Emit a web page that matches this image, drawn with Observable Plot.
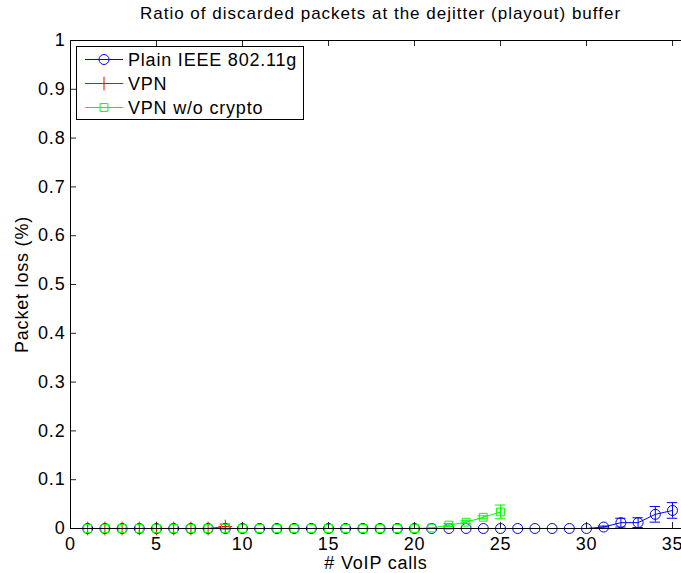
<!DOCTYPE html>
<html>
<head>
<meta charset="utf-8">
<script src="https://cdn.jsdelivr.net/npm/d3@7"></script>
<script src="https://cdn.jsdelivr.net/npm/@observablehq/plot@0.6"></script>
<style>
  html, body { margin: 0; padding: 0; background: #fff; }
  #wrap { position: relative; width: 681px; height: 573px; overflow: hidden; font-family: "Liberation Sans", Arial, Helvetica, sans-serif; }
  #title { position: absolute; left: 75px; width: 611px; top: 4px; text-align: center; font-size: 17px; letter-spacing: 1px; color: #000; white-space: nowrap; }
  #legend { position: absolute; left: 76px; top: 46px; }
</style>
</head>
<body>
<div id="wrap">
  <div id="chart"></div>
  <div id="title">Ratio of discarded packets at the dejitter (playout) buffer</div>
  <div id="legend"></div>
</div>
<script>
// ---- data ----
const callsPlain = [1,2,3,4,5,6,7,8,9,10,11,12,13,14,15,16,17,18,19,20,21,22,23,24,25,26,27,28,29,30,31,32,33,34,35];
const lossPlain  = [0,0,0,0,0,0,0,0,0,0,0,0,0,0,0,0,0,0,0,0,0,0,0,0,0,0,0,0,0,0,0.003,0.012,0.012,0.029,0.037];
const errPlain   = [0,0,0,0,0,0,0,0,0,0,0,0,0,0,0,0,0,0,0,0,0,0,0,0,0,0,0,0,0,0,0.002,0.009,0.010,0.016,0.016];

const callsVPN = [1,2,3,4,5,6,7,8,9];
const lossVPN  = [0,0,0,0,0,0,0,0,0.004];
const errVPN   = [0,0,0,0,0,0,0,0,0.005];

const callsNoCrypto = [1,2,3,4,5,6,7,8,9,10,11,12,13,14,15,16,17,18,19,20,21,22,23,24,25];
const lossNoCrypto  = [0,0,0,0,0,0,0,0,0,0,0,0,0,0,0,0,0,0,0,0,0.001,0.007,0.013,0.023,0.034];
const errNoCrypto   = [0,0,0,0,0,0,0,0,0,0,0,0,0,0,0,0,0,0,0,0,0,0.003,0.003,0.003,0.014];

const seriesNames = ["Plain IEEE 802.11g", "VPN", "VPN w/o crypto"];
const seriesColors = ["#0000ff", "#ff0000", "#00ff00"];
const seriesSymbols = ["circle", "plus", "square"];

const xTicks = [0,5,10,15,20,25,30,35];
const yTicks = [0,0.1,0.2,0.3,0.4,0.5,0.6,0.7,0.8,0.9,1];
const yTickLabels = ["0","0.1","0.2","0.3","0.4","0.5","0.6","0.7","0.8","0.9","1"];

// ---- build table ----
function rows(calls, loss, err, name) {
  return calls.map((c, i) => ({series: name, x: c, y: loss[i], e: err[i]}));
}
const sets = [
  rows(callsPlain, lossPlain, errPlain, seriesNames[0]),
  rows(callsVPN, lossVPN, errVPN, seriesNames[1]),
  rows(callsNoCrypto, lossNoCrypto, errNoCrypto, seriesNames[2])
];

const W = 681, H = 573;
const mL = 70, mR = 0, mT = 40, mB = 45;
const pxPerUnitX = 17.2;
const xMax = (W - mL - mR) / pxPerUnitX;
const plotW = W - mL - mR, plotH = H - mT - mB;
const tickLen = 6;
const capHalf = 0.3;
const symR = [5, 4.5, 4.4];

const marks = [];
sets.forEach((data, k) => {
  const color = seriesColors[k];
  marks.push(Plot.line(data, {x: "x", y: "y", stroke: color, strokeWidth: 1}));
  marks.push(Plot.ruleX(data, {x: "x", y1: d => d.y - d.e, y2: d => d.y + d.e, stroke: color, strokeWidth: 1}));
  marks.push(Plot.ruleY(data, {y: d => d.y - d.e, x1: d => d.x - capHalf, x2: d => d.x + capHalf, stroke: color, strokeWidth: 1}));
  marks.push(Plot.ruleY(data, {y: d => d.y + d.e, x1: d => d.x - capHalf, x2: d => d.x + capHalf, stroke: color, strokeWidth: 1}));
  marks.push(Plot.dot(data, {x: "x", y: "y", symbol: () => seriesSymbols[k], r: symR[k], stroke: color, fill: "none", strokeWidth: 1}));
});

// axes lines and inward ticks (span the frame, trimmed by pixel insets)
marks.push(Plot.ruleX(xTicks.filter(t => t > 0), {x: d => d, insetTop: plotH - tickLen, stroke: "#262626", strokeWidth: 1}));
marks.push(Plot.ruleX(xTicks.filter(t => t > 0), {x: d => d, insetBottom: plotH - tickLen, stroke: "#262626", strokeWidth: 1}));
marks.push(Plot.ruleY(yTicks, {y: d => d, insetRight: plotW - tickLen, stroke: "#262626", strokeWidth: 1}));
marks.push(Plot.ruleY([0, 1], {y: d => d, stroke: "#000", strokeWidth: 1}));
marks.push(Plot.ruleX([0], {x: d => d, stroke: "#000", strokeWidth: 1}));

marks.push(Plot.axisX({ticks: xTicks, tickSize: 0, tickPadding: 9, tickFormat: d => String(d), label: null, fontSize: 18}));
marks.push(Plot.axisY({ticks: yTicks, tickSize: 0, tickPadding: 5, tickFormat: d => yTickLabels[yTicks.indexOf(d)], label: null, fontSize: 18}));
marks.push(Plot.text(["# VoIP calls"], {frameAnchor: "bottom", text: d => d, dy: 35, lineAnchor: "middle", textAnchor: "middle", fontSize: 18}));
marks.push(Plot.text(["Packet loss (%)"], {frameAnchor: "left", text: d => d, dx: -48, rotate: -90, lineAnchor: "middle", textAnchor: "middle", fontSize: 18}));

const chart = Plot.plot({
  width: W, height: H,
  marginLeft: mL, marginRight: mR, marginTop: mT, marginBottom: mB,
  style: {fontFamily: '"Liberation Sans", Arial, Helvetica, sans-serif', fontSize: "18px", letterSpacing: "0.8px", color: "#000", background: "#fff", overflow: "visible"},
  x: {domain: [0, xMax]},
  y: {domain: [0, 1]},
  marks
});
document.getElementById("chart").appendChild(chart);

// legend (inside the axes, top-left)
const legW = 228, legH = 74, rowH = 24;
const legSvg = d3.create("svg").attr("width", legW).attr("height", legH)
  .style("font-family", '"Liberation Sans", Arial, Helvetica, sans-serif')
  .style("letter-spacing", "0.8px");
legSvg.append("rect").attr("x", 0.5).attr("y", 0.5).attr("width", legW - 1).attr("height", legH - 1)
  .attr("fill", "#fff").attr("stroke", "#000");
seriesNames.forEach((name, i) => {
  const cy = 13.5 + i * rowH;
  const g = legSvg.append("g");
  g.append("line").attr("x1", 9).attr("x2", 47).attr("y1", cy).attr("y2", cy).attr("stroke", seriesColors[i]);
  const sym = {circle: d3.symbolCircle, plus: d3.symbolPlus, square: d3.symbolSquare}[seriesSymbols[i]];
  g.append("path").attr("transform", `translate(28,${cy})`)
    .attr("d", d3.symbol(sym, Math.PI * symR[i] * symR[i])())
    .attr("fill", "none").attr("stroke", seriesColors[i]);
  g.append("text").attr("x", 52).attr("y", cy).attr("dy", "0.35em").attr("font-size", 18).text(name);
});
document.getElementById("legend").appendChild(legSvg.node());
</script>
</body>
</html>
